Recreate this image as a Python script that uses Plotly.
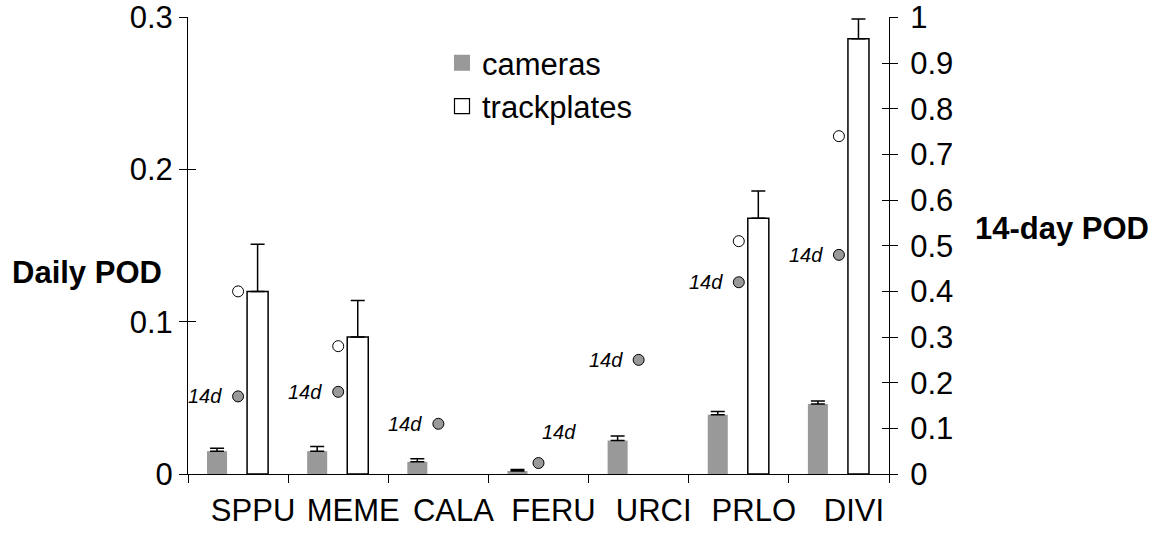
import plotly.graph_objects as go

species = ["SPPU", "MEME", "CALA", "FERU", "URCI", "PRLO", "DIVI"]

# Daily POD (left axis)
cam_daily = [0.015, 0.015, 0.008, 0.002, 0.022, 0.039, 0.046]
cam_daily_err = [0.002, 0.003, 0.002, 0.001, 0.003, 0.002, 0.002]
trk_daily = [0.120, 0.090, None, None, None, 0.168, 0.286]
trk_daily_err = [0.031, 0.024, None, None, None, 0.018, 0.013]

# 14-day POD (right axis)
cam_14d = [0.17, 0.18, 0.11, 0.024, 0.25, 0.42, 0.48]
trk_14d = [0.40, 0.28, None, None, None, 0.51, 0.74]

left_ticks = [0, 0.1, 0.2, 0.3]
left_ticktext = ["0", "0.1", "0.2", "0.3"]
right_ticks = [0, 0.1, 0.2, 0.3, 0.4, 0.5, 0.6, 0.7, 0.8, 0.9, 1]
right_ticktext = ["0", "0.1", "0.2", "0.3", "0.4", "0.5", "0.6", "0.7", "0.8", "0.9", "1"]

FONT = "Liberation Sans, Arial, sans-serif"
GRAY = "#999999"

fig = go.Figure()

fig.add_trace(go.Bar(
    x=species, y=cam_daily, name="cameras", showlegend=False,
    offset=-0.31, width=0.20,
    marker=dict(color=GRAY, line=dict(width=0)),
    error_y=dict(type="data", symmetric=False, array=cam_daily_err,
                 arrayminus=[0] * len(species), color="black", thickness=1.5, width=7),
))
fig.add_trace(go.Bar(
    x=species, y=trk_daily, name="trackplates", showlegend=False,
    offset=0.09, width=0.21,
    marker=dict(color="white", line=dict(color="black", width=1.5)),
    error_y=dict(type="data", symmetric=False, array=trk_daily_err,
                 arrayminus=[0] * len(species), color="black", thickness=1.5, width=7),
))

fig.add_trace(go.Scatter(
    x=species, y=cam_14d, yaxis="y2", mode="markers", showlegend=False,
    marker=dict(size=11, color=GRAY, line=dict(color="black", width=1)),
))
fig.add_trace(go.Scatter(
    x=species, y=trk_14d, yaxis="y2", mode="markers", showlegend=False,
    marker=dict(size=11, color="white", line=dict(color="black", width=1)),
))

# legend entries
fig.add_trace(go.Scatter(
    x=[None], y=[None], mode="markers", name="cameras",
    marker=dict(symbol="square", size=16, color=GRAY, line=dict(width=0)),
))
fig.add_trace(go.Scatter(
    x=[None], y=[None], mode="markers", name="trackplates",
    marker=dict(symbol="square", size=15, color="white", line=dict(color="black", width=1.2)),
))

annotations = []
for sp, v in zip(species, cam_14d):
    if v is None:
        continue
    if sp == "FERU":
        annotations.append(dict(x=sp, y=v, xref="x", yref="y2", text="<i>14d</i>",
                                showarrow=False, xanchor="center", yanchor="middle",
                                xshift=20, yshift=31,
                                font=dict(family=FONT, size=20, color="black")))
    else:
        annotations.append(dict(x=sp, y=v, xref="x", yref="y2", text="<i>14d</i>",
                                showarrow=False, xanchor="right", yanchor="middle",
                                xshift=-14,
                                font=dict(family=FONT, size=20, color="black")))

annotations.append(dict(x=-178 / 701, y=0.441, xref="paper", yref="paper",
                        text="<b>Daily POD</b>", showarrow=False, xanchor="left",
                        yanchor="middle", font=dict(family=FONT, size=31, color="black")))
annotations.append(dict(x=(973 - 188) / 701, y=0.538, xref="paper", yref="paper",
                        text="<b>14-day POD</b>", showarrow=False, xanchor="left",
                        yanchor="middle", font=dict(family=FONT, size=31, color="black")))

axis_font = dict(family=FONT, size=31, color="black")

fig.update_layout(
    width=1161, height=535,
    margin=dict(l=188, r=272, t=17, b=61, pad=0, autoexpand=False),
    paper_bgcolor="white", plot_bgcolor="white",
    barmode="overlay",
    showlegend=True,
    legend=dict(x=(442 - 188) / 701, y=0.958, xanchor="left", yanchor="top",
                bgcolor="rgba(0,0,0,0)", font=dict(family=FONT, size=31, color="black"),
                itemsizing="trace", tracegroupgap=0),
    font=dict(family=FONT, color="black"),
    xaxis=dict(type="category", range=[-0.5, 6.5], showline=True, linecolor="black",
               linewidth=1, ticks="outside", ticklen=8, tickcolor="black", tickwidth=1,
               tickson="boundaries", showgrid=False, zeroline=False, automargin=False,
               tickangle=0, tickfont=axis_font, ticklabelshift=15, ticklabelstandoff=9),
    yaxis=dict(range=[0, 0.3003], tickvals=left_ticks, ticktext=left_ticktext,
               showline=True, linecolor="black", linewidth=1, ticks="outside",
               ticklen=8, tickcolor="black", tickwidth=1, showgrid=False,
               zeroline=False, tickfont=axis_font, automargin=False),
    yaxis2=dict(range=[0, 1.001], tickvals=right_ticks, ticktext=right_ticktext,
                overlaying="y", side="right", showline=True, linecolor="black",
                linewidth=1, ticks="outside", ticklen=8, tickcolor="black",
                tickwidth=1, showgrid=False, zeroline=False, tickfont=axis_font,
                ticklabelstandoff=6, automargin=False),
    yaxis3=dict(range=[0, 0.3003], tickvals=left_ticks, overlaying="y", side="left",
                showticklabels=False, ticks="inside", ticklen=8, tickcolor="black",
                tickwidth=1, showgrid=False, zeroline=False, showline=False,
                automargin=False),
    yaxis4=dict(range=[0, 1.001], tickvals=right_ticks, overlaying="y", side="right",
                showticklabels=False, ticks="inside", ticklen=7, tickcolor="black",
                tickwidth=1, showgrid=False, zeroline=False, showline=False,
                automargin=False),
    annotations=annotations,
)

# invisible traces to activate the tick-only overlay axes
fig.add_trace(go.Scatter(x=[None], y=[None], yaxis="y3", showlegend=False, hoverinfo="skip"))
fig.add_trace(go.Scatter(x=[None], y=[None], yaxis="y4", showlegend=False, hoverinfo="skip"))

fig.write_html("out.html")
